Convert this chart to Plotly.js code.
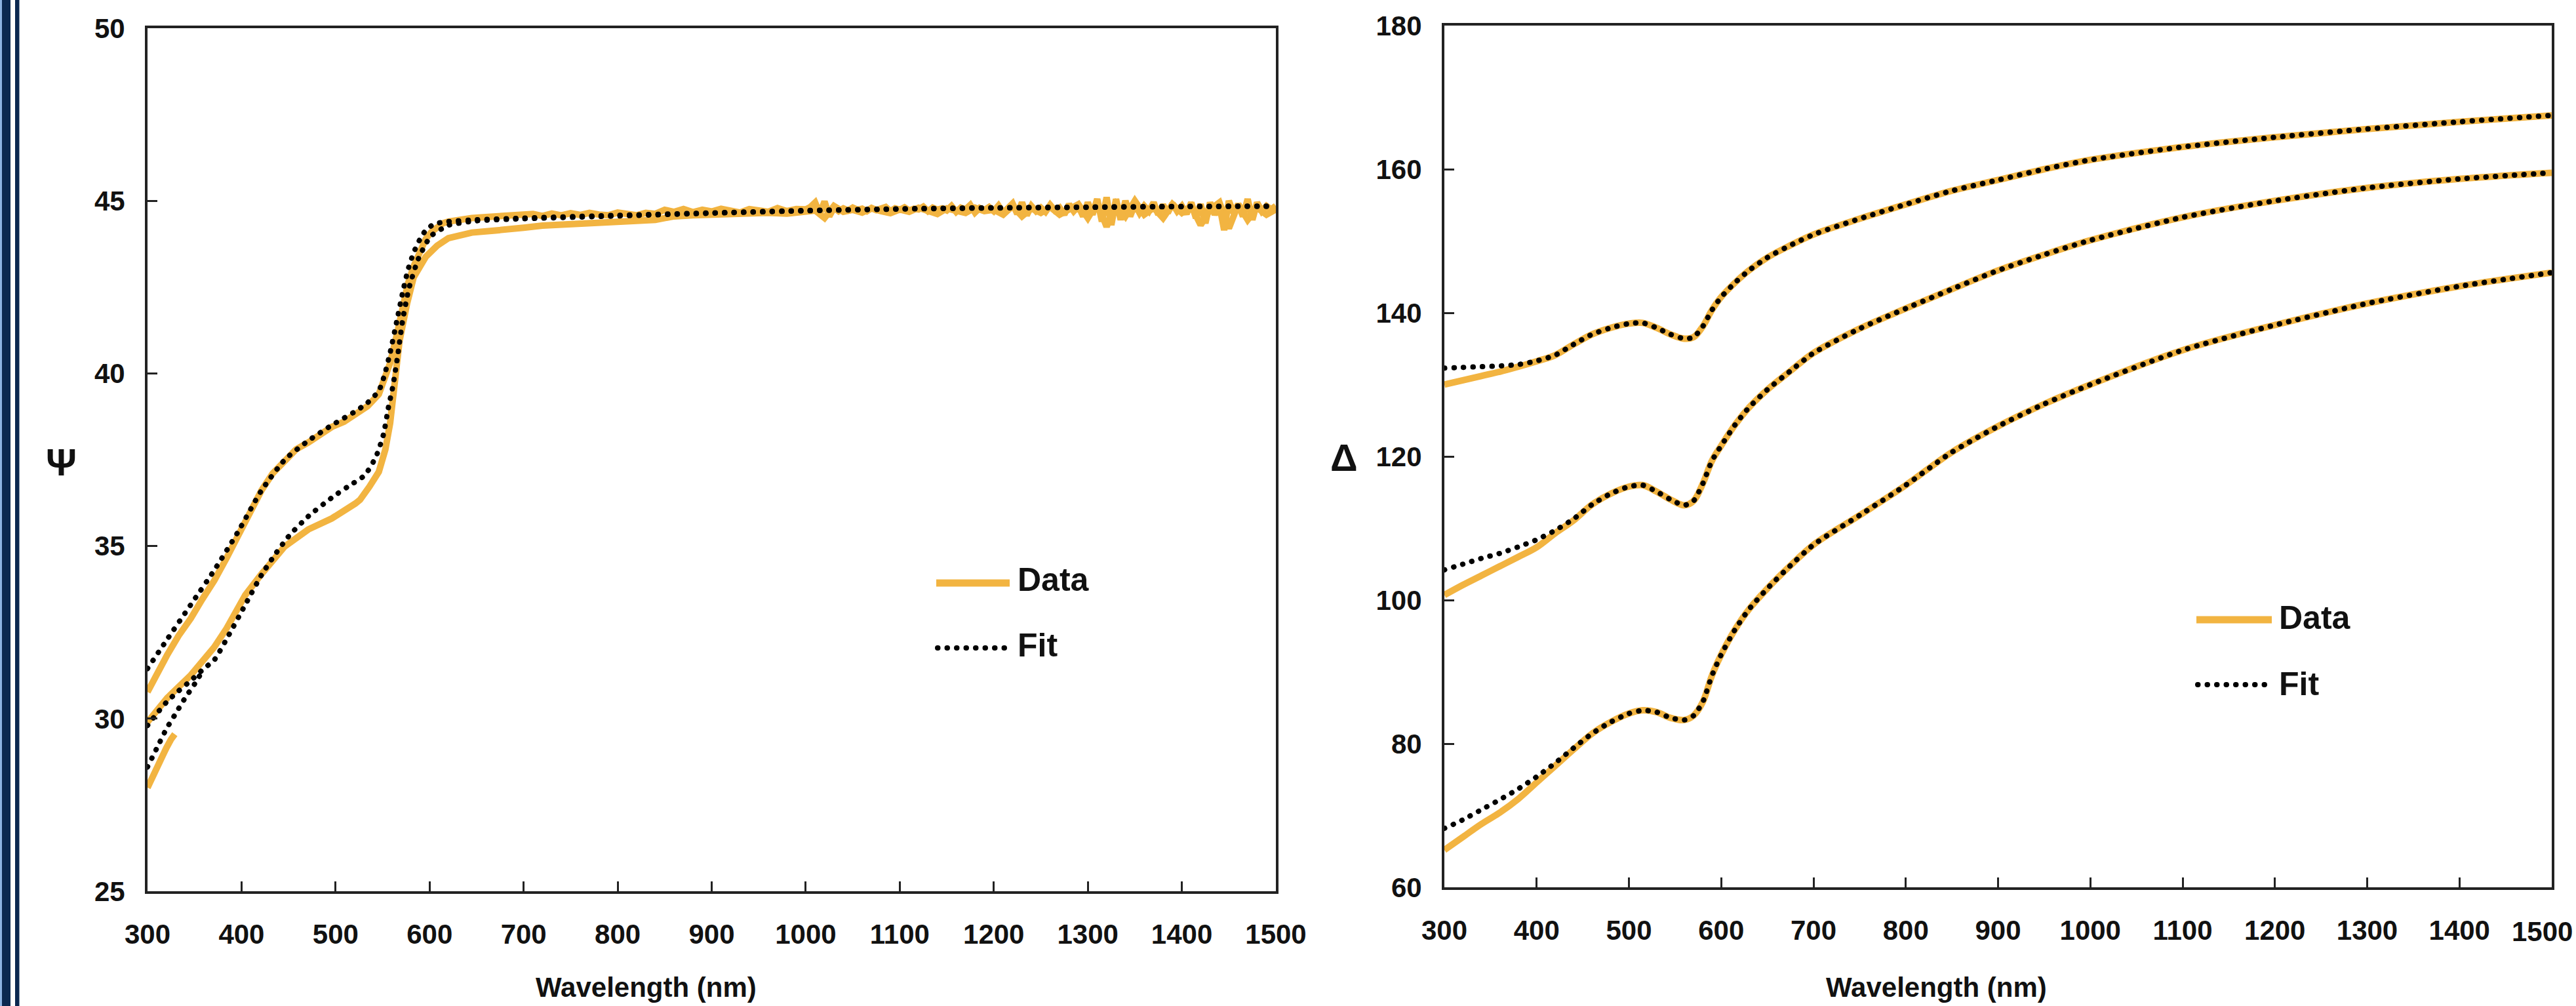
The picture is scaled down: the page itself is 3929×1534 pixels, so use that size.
<!DOCTYPE html>
<html>
<head>
<meta charset="utf-8">
<script src="https://cdn.plot.ly/plotly-3.0.1.min.js"></script>
<style>html,body{margin:0;padding:0;background:#fff;}#chart{width:3929px;height:1534px;}</style>
</head>
<body>
<div id="chart"></div>
<script>
// ---------------- Ψ panel (left) ----------------
const psiA_rise_x = [300,310,321,333,346,358,371,384,396,409,421,433,446,458,471,484,496,509,521,534,546,552,558,565,571,577,583,590,596,602,608,614,620,633,645,660,675,690];
const psiA_rise_y = [30.77,31.3,31.85,32.4,32.9,33.45,34.0,34.65,35.3,36.0,36.6,37.1,37.5,37.8,38.0,38.25,38.45,38.6,38.8,39.05,39.4,39.8,40.3,41.1,41.9,42.6,43.1,43.6,43.9,44.1,44.25,44.35,44.4,44.47,44.5,44.53,44.56,44.57];
const psiA_mid_x = [700,710,720,730,740,750,760,770,780,790,800,810,820,830,840,850,860,870,880,890,900,910,920,930,940,950,960,970,980,990];
const psiA_mid_y = [44.58,44.62,44.56,44.63,44.58,44.64,44.59,44.65,44.6,44.58,44.66,44.61,44.58,44.65,44.62,44.74,44.68,44.76,44.67,44.74,44.69,44.77,44.7,44.66,44.76,44.71,44.68,44.79,44.7,44.76];
const psiA_noisy_x = [1000,1005,1010,1015,1020,1025,1030,1035,1040,1045,1050,1055,1060,1065,1070,1075,1080,1085,1090,1095,1100,1105,1110,1115,1120,1125,1130,1135,1140,1145,1150,1155,1160,1165,1170,1175,1180,1185,1190,1195,1200,1205,1210,1215,1220,1225,1230,1235,1240,1245,1250,1255,1260,1265,1270,1275,1280,1285,1290,1295,1300,1305,1310,1315,1320,1325,1330,1335,1340,1345,1350,1355,1360,1365,1370,1375,1380,1385,1390,1395,1400,1405,1410,1415,1420,1425,1430,1435,1440,1445,1450,1455,1460,1465,1470,1475,1480,1485,1490,1495,1500];
const psiA_noisy_y = [44.75,44.82,44.95,44.62,44.98,44.55,44.8,44.7,44.78,44.72,44.8,44.74,44.77,44.7,44.79,44.73,44.76,44.82,44.7,44.78,44.74,44.81,44.72,44.77,44.75,44.83,44.7,44.8,44.74,44.78,44.72,44.85,44.68,44.8,44.75,44.88,44.66,44.79,44.73,44.82,44.7,44.86,44.65,44.8,44.92,44.62,44.95,44.58,44.85,44.7,44.8,44.68,44.88,44.72,44.8,44.6,44.9,44.7,44.85,44.55,44.95,44.6,45.05,44.4,45.1,44.3,45.05,44.45,45.0,44.55,44.9,44.65,44.85,44.7,44.95,44.6,44.88,44.65,44.92,44.7,44.85,44.62,44.95,44.5,44.9,44.35,44.95,44.6,44.88,44.15,45.0,44.65,44.9,44.55,45.05,44.45,44.95,44.7,44.85,44.75,44.85];

const psiB_x = [300,321,346,371,384,404,421,446,471,496,521,526,536,546,553,558,563,568,576,583,596,608,620,645,670,690,700,720,740,760,780,800,820,840,860,880,900,920,940,960,980,1000,1010,1020,1030,1040,1050,1060,1070,1080,1090,1100,1110,1120,1130,1140,1150,1160,1170,1180,1190,1200,1210,1220,1230,1240,1250,1260,1270,1280,1290,1300,1310,1320,1330,1340,1350,1360,1370,1380,1390,1400,1410,1420,1430,1440,1450,1460,1470,1480,1490,1500];
const psiB_y = [29.9,30.6,31.26,32.07,32.61,33.58,34.18,34.99,35.48,35.8,36.23,36.34,36.72,37.15,37.8,38.56,39.75,40.94,42.02,42.78,43.38,43.7,43.92,44.08,44.14,44.17,44.22,44.28,44.3,44.33,44.36,44.4,44.42,44.45,44.55,44.58,44.6,44.62,44.6,44.65,44.63,44.66,44.72,44.5,44.85,44.68,44.74,44.66,44.78,44.7,44.64,44.75,44.68,44.8,44.7,44.62,44.78,44.72,44.65,44.8,44.7,44.74,44.6,44.85,44.55,44.78,44.65,44.82,44.6,44.75,44.9,44.5,44.95,44.25,44.9,44.55,45.0,44.6,44.8,44.5,44.9,44.65,44.85,44.3,44.75,44.95,44.2,44.9,44.45,44.8,44.6,44.75];

const psiC_x = [300,305,310,315,320,325,329];
const psiC_y = [28.0,28.3,28.65,28.9,29.15,29.4,29.55];

const fitA_x = [300,321,346,371,396,421,446,471,496,521,534,546,552,558,565,571,577,583,590,596,602,608,620,650,700,800,900,1000,1100,1200,1300,1400,1500];
const fitA_y = [31.45,32.3,33.3,34.3,35.4,36.6,37.5,38.05,38.5,38.9,39.15,39.5,39.95,40.6,41.5,42.3,43.0,43.5,43.9,44.15,44.28,44.35,44.4,44.45,44.5,44.58,44.65,44.72,44.77,44.8,44.82,44.84,44.85];

const fitB_x = [300,310,321,333,346,360,371,386,404,421,436,451,471,496,513,531,543,551,556,561,566,571,578,588,601,613,621,650,700,800,900,1000,1100,1200,1300,1400,1500];
const fitB_y = [29.8,30.15,30.5,30.8,31.1,31.45,31.7,32.4,33.3,34.15,34.77,35.31,35.86,36.4,36.72,37.05,37.59,38.24,38.99,39.64,40.5,41.48,42.46,43.32,43.97,44.19,44.3,44.42,44.48,44.56,44.64,44.71,44.76,44.79,44.81,44.83,44.84];

const fitC_x = [300,310,320,330,340,350,360];
const fitC_y = [28.6,29.15,29.7,30.15,30.6,31.0,31.45];

// ---------------- Δ panel (right) ----------------
const wl = [300,320,340,360,380,400,420,440,460,480,500,515,530,545,560,570,580,590,600,615,630,650,675,700,750,800,850,900,950,1000,1100,1200,1300,1400,1500];
const delta1_data = [130.0,130.6,131.2,131.8,132.5,133.25,134.1,135.6,137.0,137.9,138.5,138.6,137.9,137.0,136.4,136.6,138.1,140.4,142.2,144.2,145.9,147.7,149.4,150.9,153.1,155.1,157.0,158.5,160.0,161.3,163.1,164.45,165.6,166.6,167.5];
const delta1_fit  = [132.3,132.4,132.5,132.6,132.8,133.3,134.1,135.6,137.0,137.9,138.5,138.6,137.9,137.0,136.4,136.6,138.1,140.4,142.2,144.2,145.9,147.7,149.4,150.9,153.1,155.1,157.0,158.5,160.0,161.3,163.1,164.45,165.6,166.6,167.5];
const delta2_data = [100.7,102.1,103.4,104.7,106.0,107.35,109.3,111.1,113.3,114.8,115.8,116.0,115.1,114.0,113.2,113.8,116.2,119.4,121.5,124.4,126.8,129.3,131.9,134.4,137.8,140.6,143.3,145.9,148.1,150.1,153.3,155.6,157.4,158.65,159.5];
const delta2_fit  = [104.2,105.0,105.8,106.5,107.4,108.4,109.7,111.3,113.3,114.8,115.8,116.0,115.1,114.0,113.2,113.8,116.2,119.4,121.5,124.4,126.8,129.3,131.9,134.4,137.8,140.6,143.3,145.9,148.1,150.1,153.3,155.6,157.4,158.65,159.5];
const delta3_data = [65.2,67.0,68.8,70.4,72.3,74.6,76.9,79.2,81.4,83.0,84.2,84.65,84.4,83.6,83.3,83.9,85.8,89.5,92.4,95.9,98.7,101.6,104.8,107.7,111.8,116.0,120.6,124.2,127.3,130.0,134.8,138.3,141.3,143.7,145.6];
const delta3_fit  = [68.2,69.4,70.8,72.2,73.7,75.4,77.3,79.4,81.4,83.0,84.2,84.65,84.4,83.6,83.3,83.9,85.8,89.5,92.4,95.9,98.7,101.6,104.8,107.7,111.8,116.0,120.6,124.2,127.3,130.0,134.8,138.3,141.3,143.7,145.6];

const xTicks = [300,400,500,600,700,800,900,1000,1100,1200,1300,1400,1500];
const psiTicks = [25,30,35,40,45,50];
const deltaTicks = [60,80,100,120,140,160,180];
const legendLabels = ["Data","Fit"];
const xTitle = "Wavelength (nm)";
const psiTitle = "Ψ";
const deltaTitle = "Δ";

// ---------------- styling ----------------
const W = 3929, H = 1534;
const px = v => v / W;
const py = v => 1 - v / H;
const ORANGE = '#F2B441';
const INK = '#111111';
const FONT = 'Liberation Sans, Arial, sans-serif';
const TICK_SIZE = 42;

function dataTrace(x, y, xa, ya, shape) {
  return {x: x, y: y, xaxis: xa, yaxis: ya, type: 'scatter', mode: 'lines',
    line: {color: ORANGE, width: 10, shape: shape || 'linear'}, showlegend: false, hoverinfo: 'skip'};
}
function fitTrace(x, y, xa, ya) {
  return {x: x, y: y, xaxis: xa, yaxis: ya, type: 'scatter', mode: 'lines',
    line: {color: '#000000', width: 8, dash: 'dot', shape: 'spline', smoothing: 0.6}, showlegend: false, hoverinfo: 'skip'};
}

const psiA_x = psiA_rise_x.concat(psiA_mid_x, psiA_noisy_x);
const psiA_y = psiA_rise_y.concat(psiA_mid_y, psiA_noisy_y);

const traces = [
  dataTrace(psiB_x, psiB_y, 'x', 'y'),
  dataTrace(psiA_x, psiA_y, 'x', 'y'),
  dataTrace(psiC_x, psiC_y, 'x', 'y'),
  fitTrace(fitA_x, fitA_y, 'x', 'y'),
  fitTrace(fitB_x, fitB_y, 'x', 'y'),
  fitTrace(fitC_x, fitC_y, 'x', 'y'),
  dataTrace(wl, delta1_data, 'x2', 'y2', 'spline'),
  dataTrace(wl, delta2_data, 'x2', 'y2', 'spline'),
  dataTrace(wl, delta3_data, 'x2', 'y2', 'spline'),
  fitTrace(wl, delta1_fit, 'x2', 'y2'),
  fitTrace(wl, delta2_fit, 'x2', 'y2'),
  fitTrace(wl, delta3_fit, 'x2', 'y2')
];

const tickFont = {family: FONT, size: TICK_SIZE, color: INK, weight: 700};
function xAxis(domain, anchor, lastLabel) {
  return {domain: domain, anchor: anchor, range: [300, 1500], tickmode: 'array', tickvals: xTicks,
    ticktext: xTicks.map(function (v, i) { return (i === xTicks.length - 1 && !lastLabel) ? '' : String(v); }),
    ticks: 'inside', ticklen: 15, tickwidth: 3, tickcolor: '#222',
    showline: true, linecolor: '#222', linewidth: 4, mirror: true, showgrid: false, zeroline: false,
    tickfont: tickFont, ticklabelstandoff: 26, fixedrange: true};
}
function yAxis(domain, anchor, range, ticks) {
  return {domain: domain, anchor: anchor, range: range, tickmode: 'array', tickvals: ticks,
    ticktext: ticks.map(String), ticks: 'inside', ticklen: 15, tickwidth: 3, tickcolor: '#222',
    showline: true, linecolor: '#222', linewidth: 4, mirror: true, showgrid: false, zeroline: false,
    tickfont: tickFont, ticklabelstandoff: 22, fixedrange: true};
}

const shapes = [
  {type: 'rect', xref: 'paper', yref: 'paper', x0: 0, x1: px(3), y0: 0, y1: 1, fillcolor: '#8DB3E2', line: {width: 0}, layer: 'above'},
  {type: 'rect', xref: 'paper', yref: 'paper', x0: px(3), x1: px(16), y0: 0, y1: 1, fillcolor: '#0B2850', line: {width: 0}, layer: 'above'},
  {type: 'rect', xref: 'paper', yref: 'paper', x0: px(23), x1: px(29.5), y0: 0, y1: 1, fillcolor: '#0B2850', line: {width: 0}, layer: 'above'},
  // legend symbols, left panel
  {type: 'line', xref: 'paper', yref: 'paper', x0: px(1428), x1: px(1540), y0: py(889), y1: py(889), line: {color: ORANGE, width: 11}},
  {type: 'line', xref: 'paper', yref: 'paper', x0: px(1430), x1: px(1540), y0: py(988), y1: py(988), line: {color: '#000000', width: 8, dash: 'dot'}},
  // legend symbols, right panel
  {type: 'line', xref: 'paper', yref: 'paper', x0: px(3350), x1: px(3465), y0: py(945), y1: py(945), line: {color: ORANGE, width: 11}},
  {type: 'line', xref: 'paper', yref: 'paper', x0: px(3352), x1: px(3462), y0: py(1044), y1: py(1044), line: {color: '#000000', width: 8, dash: 'dot'}}
];

const legFont = {family: FONT, size: 50, color: INK, weight: 700};
const titleFont = {family: FONT, size: 42, color: INK, weight: 700};
const symFont = {family: FONT, size: 58, color: INK, weight: 700};
function ann(text, x, y, font, xanchor) {
  return {text: text, xref: 'paper', yref: 'paper', x: px(x), y: py(y), xanchor: xanchor || 'left', yanchor: 'middle',
    showarrow: false, font: font};
}
const annotations = [
  ann(legendLabels[0], 1550, 884, legFont),
  ann(legendLabels[1], 1550, 984, legFont),
  ann(legendLabels[0], 3474, 942, legFont),
  ann(legendLabels[1], 3474, 1043, legFont),
  ann(xTitle, 986, 1505, titleFont, 'center'),
  ann(xTitle, 2953, 1505, titleFont, 'center'),
  ann(psiTitle, 93, 704, symFont, 'center'),
  ann(deltaTitle, 2050, 697, symFont, 'center'),
  // last tick label of the right panel, kept inside the page edge
  ann(String(xTicks[xTicks.length - 1]), 3926, 1420, tickFont, 'right')
];

const layout = {
  width: W, height: H,
  margin: {l: 0, r: 0, t: 0, b: 0, pad: 0},
  paper_bgcolor: '#ffffff', plot_bgcolor: '#ffffff',
  showlegend: false,
  xaxis: xAxis([px(225), px(1946)], 'y', true),
  yaxis: yAxis([py(1359), py(43)], 'x', [25, 50], psiTicks),
  xaxis2: xAxis([px(2203), px(3892)], 'y2', false),
  yaxis2: yAxis([py(1353), py(39)], 'x2', [60, 180], deltaTicks),
  shapes: shapes,
  annotations: annotations
};

Plotly.newPlot('chart', traces, layout, {staticPlot: true, displayModeBar: false}).then(function (gd) {
  // render the dotted fit lines with round dots, like the original
  gd.querySelectorAll('path').forEach(function (p) {
    const da = p.style.strokeDasharray;
    if (da && da !== 'none' && da !== '') {
      p.style.strokeLinecap = 'round';
      p.style.strokeDasharray = '0.5px,14px';
    }
  });
});
</script>
</body>
</html>
